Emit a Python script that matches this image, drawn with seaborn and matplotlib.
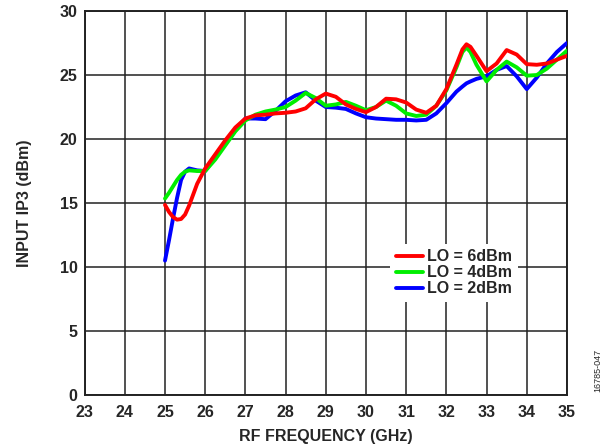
import matplotlib
matplotlib.use("Agg")
import matplotlib.pyplot as plt
import seaborn as sns
import pandas as pd

freq = [25.0, 25.1, 25.2, 25.3, 25.4, 25.5, 25.6, 25.8, 26.0, 26.25, 26.5, 26.75, 27.0,
        27.25, 27.5, 27.75, 28.0, 28.25, 28.5, 28.75, 29.0, 29.25, 29.5, 29.75, 30.0,
        30.25, 30.5, 30.75, 31.0, 31.25, 31.5, 31.75, 32.0, 32.25, 32.4, 32.5, 32.6,
        32.75, 33.0, 33.25, 33.5, 33.75, 34.0, 34.25, 34.5, 34.75, 35.0]

ip3_lo6 = [14.85, 14.3, 13.9, 13.7, 13.75, 14.1, 14.8, 16.5, 17.7, 18.8, 19.9, 20.9, 21.6,
           21.85, 21.9, 22.0, 22.05, 22.15, 22.4, 23.1, 23.55, 23.3, 22.7, 22.35, 22.1,
           22.5, 23.15, 23.1, 22.85, 22.3, 22.05, 22.6, 23.9, 25.8, 27.0, 27.4, 27.2,
           26.5, 25.3, 25.9, 26.95, 26.6, 25.85, 25.8, 25.9, 26.2, 26.5]

ip3_lo4 = [15.35, 15.8, 16.3, 16.8, 17.2, 17.45, 17.55, 17.5, 17.5, 18.4, 19.5, 20.6, 21.45,
           21.9, 22.15, 22.3, 22.5, 23.0, 23.6, 23.2, 22.6, 22.7, 22.9, 22.6, 22.25,
           22.5, 23.0, 22.6, 22.0, 21.8, 21.9, 22.6, 23.8, 25.6, 26.8, 27.15, 26.8,
           25.8, 24.5, 25.4, 26.05, 25.6, 24.95, 25.0, 25.5, 26.2, 26.9]

ip3_lo2 = [10.5, 12.1, 13.8, 15.4, 16.8, 17.45, 17.7, 17.55, 17.5, 18.6, 19.7, 20.7, 21.6,
           21.6, 21.55, 22.2, 22.95, 23.4, 23.65, 23.0, 22.5, 22.45, 22.35, 22.0, 21.7,
           21.6, 21.55, 21.5, 21.5, 21.45, 21.5, 22.0, 22.8, 23.7, 24.1, 24.35, 24.5,
           24.7, 24.9, 25.4, 25.7, 24.9, 23.9, 24.8, 25.9, 26.8, 27.5]

series_labels = ["LO = 6dBm", "LO = 4dBm", "LO = 2dBm"]
series_values = [ip3_lo6, ip3_lo4, ip3_lo2]
series_colors = ["#ff0000", "#00ee00", "#0000ff"]

x_ticks = list(range(23, 36))
y_ticks = [0, 5, 10, 15, 20, 25, 30]

sns.set_theme(style="white")
plt.rcParams["font.family"] = ["Liberation Sans", "DejaVu Sans"]
plt.rcParams["font.weight"] = "bold"

FS = 11.5

fig = plt.figure(figsize=(6.07, 4.48), dpi=100)
ax = fig.add_axes([0.1394, 0.1183, 0.7946, 0.8571])

# draw blue first, red on top
for lab, vals, col, z in reversed(list(zip(series_labels, series_values, series_colors, [5, 4, 3]))):
    df = pd.DataFrame({"freq": freq, "ip3": vals})
    sns.lineplot(data=df, x="freq", y="ip3", ax=ax, color=col, linewidth=2.8,
                 label=lab, zorder=z, legend=False)
for line in ax.lines:
    line.set_solid_joinstyle("round")
    line.set_solid_capstyle("round")

ax.set_xlim(23, 35)
ax.set_ylim(0, 30)
ax.set_xticks(x_ticks)
ax.set_yticks(y_ticks)
ax.set_xticklabels([str(t) for t in x_ticks], fontsize=FS, fontweight="bold")
ax.set_yticklabels([str(t) for t in y_ticks], fontsize=FS, fontweight="bold")
ax.tick_params(axis="x", length=0, pad=7)
ax.tick_params(axis="y", length=0, pad=5)
ax.grid(True, color="#222222", linewidth=1.1)
for s in ax.spines.values():
    s.set_color("#222222")
    s.set_linewidth(1.4)
    s.set_visible(True)

ax.set_xlabel("RF FREQUENCY (GHz)", fontsize=FS, fontweight="bold", labelpad=7)
ax.set_ylabel("INPUT IP3 (dBm)", fontsize=FS, fontweight="bold", labelpad=20)

line_map = {l.get_label(): l for l in ax.lines}
leg = ax.legend([line_map[l] for l in series_labels], series_labels,
                loc="upper left", bbox_to_anchor=(0.634, 0.394),
                frameon=True, facecolor="white", edgecolor="none", framealpha=1,
                fontsize=FS, handlelength=1.7, handletextpad=0.25,
                labelspacing=0.06, borderpad=0.35, borderaxespad=0)
for t in leg.get_texts():
    t.set_fontweight("bold")
leg.set_zorder(10)

fig.text(0.985, 0.174, "16785-047", rotation=90, fontsize=6.5, fontweight="normal",
         ha="center", va="center")

fig.savefig("out.png", dpi=100)
